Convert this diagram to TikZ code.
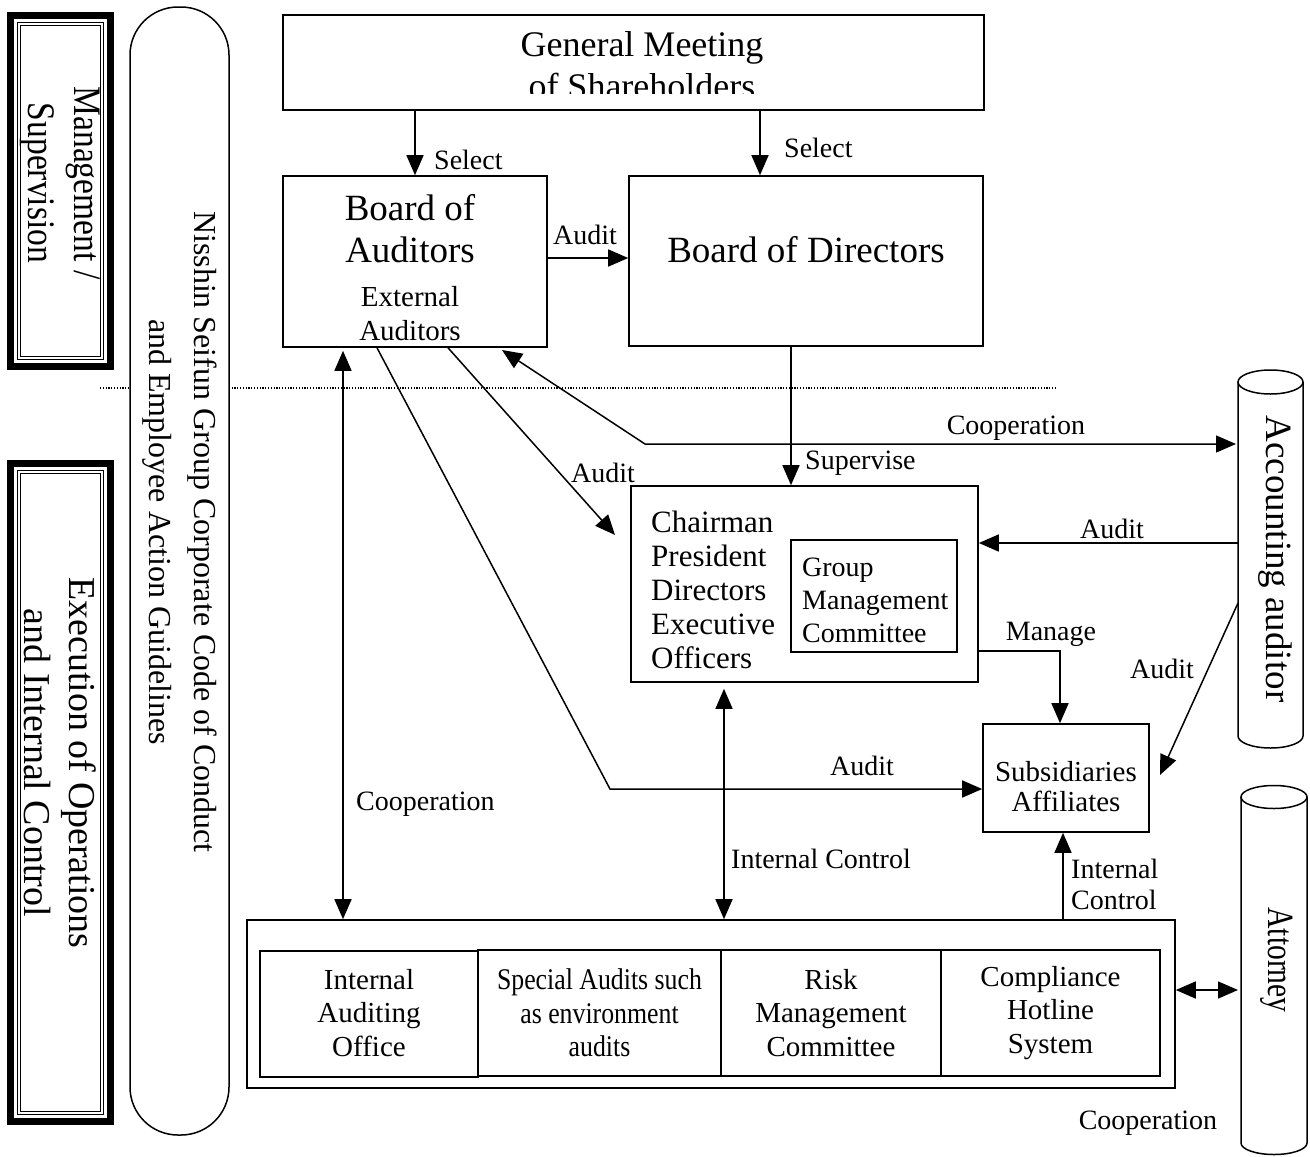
\documentclass[tikz,border=0pt]{standalone}
\usepackage{fontspec}
\setmainfont{Liberation Serif}
\newfontfamily\condA{Liberation Serif}[FakeStretch=0.86]
\newfontfamily\condB{Liberation Serif}[FakeStretch=0.80]
\usetikzlibrary{arrows.meta,calc}
\newcommand\fz[2]{\fontsize{#1}{#2}\selectfont}
\begin{document}
\begin{tikzpicture}[x=1pt,y=-1pt,
  box/.style={draw,line width=1.6pt,fill=white,inner sep=0pt},
  con/.style={line width=1.5pt},
  tip/.style={-{Triangle[length=20pt,width=17pt]}},
  dtip/.style={{Triangle[length=20pt,width=17pt]}-{Triangle[length=20pt,width=17pt]}},
  lbl/.style={font=\fz{28}{32},inner sep=0pt},
  txt/.style={inner sep=0pt,align=center},
]
\useasboundingbox (0,0) rectangle (1310,1157);

% dotted divider
\coordinate (dotL) at (100,388);
\coordinate (dotR) at (1057,388);
\draw[line width=1.2pt,dash pattern=on 1.2pt off 1.6pt] (dotL) -- (dotR);

% left framed panels
\fill[black] (7,12) rectangle (114,370);
\fill[white] (14,19) rectangle (107,363);
\draw[line width=0.9pt] (17.5,22.5) rectangle (103.5,359.5);
\draw[line width=0.9pt] (20.5,25.5) rectangle (100.5,356.5);
\node[txt,rotate=-90,font=\condA\fz{39}{46}] (mgmt) at (60,183) {Management /\\Supervision};

\fill[black] (7,460) rectangle (114,1125);
\fill[white] (14,467) rectangle (107,1118);
\draw[line width=0.9pt] (17.5,470.5) rectangle (103.5,1114.5);
\draw[line width=0.9pt] (20.5,473.5) rectangle (100.5,1111.5);
\node[txt,rotate=-90,font=\fz{38}{45}] (exec) at (60,763) {Execution of Operations\\and Internal Control};

% code of conduct band
\draw[line width=1.5pt,fill=white,rounded corners=48pt] (130,7) rectangle (229,1135);
\node[txt,rotate=-90,font=\fz{32}{45}] (code) at (180,532) {Nisshin Seifun Group Corporate Code of Conduct\\and Employee Action Guidelines};

% General meeting
\node[box,minimum width=701pt,minimum height=95pt] (gm) at (633.5,62.5) {};
\begin{scope}
  \clip (284,16) rectangle (983,93);
  \node[txt,font=\fz{36}{42}] (gmt) at (642,65) {General Meeting\\of Shareholders};
\end{scope}

% Board of auditors
\node[box,minimum width=264pt,minimum height=171pt] (boa) at (415,261.5) {};
\node[txt,font=\fz{37}{42}] (boat) at (410,229) {Board of\\Auditors};
\node[txt,font=\fz{29}{34}] (ext) at (410,314) {External\\Auditors};

% Board of directors
\node[box,minimum width=354pt,minimum height=170pt] (bod) at (806,261) {};
\node[txt,font=\fz{37}{42}] (bodt) at (806,250) {Board of Directors};

% Chairman box
\node[box,minimum width=347pt,minimum height=196pt] (chair) at (804.5,584) {};
\node[inner sep=0pt,align=left,anchor=west,font=\fz{31}{34}] (chairt) at (651,590) {Chairman\\President\\Directors\\Executive\\Officers};
\node[box,minimum width=166pt,minimum height=112pt] (gmc) at (874,596) {};
\node[inner sep=0pt,align=left,anchor=west,font=\fz{28}{33}] (gmct) at (802,600) {Group\\Management\\Committee};

% Subsidiaries
\node[box,minimum width=166pt,minimum height=108pt] (subs) at (1066,778) {};
\node[txt,font=\fz{29}{30}] (subst) at (1066,787) {Subsidiaries\\Affiliates};

% Internal control block
\node[box,minimum width=928pt,minimum height=168pt] (ctrl) at (711,1004) {};
\node[box,minimum width=218pt,minimum height=126pt] (iao) at (369,1014) {};
\node[box,minimum width=243pt,minimum height=126pt] (spa) at (599.5,1013) {};
\node[box,minimum width=220pt,minimum height=126pt] (risk) at (831,1013) {};
\node[box,minimum width=219pt,minimum height=126pt] (comp) at (1050.5,1013) {};
\node[txt,font=\fz{29}{33.5}] (iaot) at (369,1013) {Internal\\Auditing\\Office};
\node[txt,font=\condA\fz{30}{33.5}] (spat) at (599.5,1013) {Special Audits such\\as environment\\audits};
\node[txt,font=\fz{29}{33.5}] (riskt) at (831,1013) {Risk\\Management\\Committee};
\node[txt,font=\fz{29}{33.5}] (compt) at (1050.5,1013) {Compliance\\Hotline\\System};

% Cylinders
\draw[line width=1.5pt,fill=white] (1238,382) -- (1238,736) arc[start angle=180,end angle=0,x radius=32.5,y radius=12] -- (1303,382);
\draw[line width=1.5pt,fill=white] (1270.5,382) ellipse [x radius=32.5,y radius=12];
\node[txt,rotate=-90,font=\fz{37}{40}] (acc) at (1275,559) {Accounting auditor};

\draw[line width=1.5pt,fill=white] (1241,797) -- (1241,1143) arc[start angle=180,end angle=0,x radius=33,y radius=11.5] -- (1307,797);
\draw[line width=1.5pt,fill=white] (1274,797) ellipse [x radius=33,y radius=11.5];
\node[txt,rotate=-90,font=\condB\fz{37}{40}] (att) at (1277,960) {Attorney};

% helper coordinates
\coordinate (s1) at (415,0);
\coordinate (s2) at (760,0);
\coordinate (a1) at (0,258);
\coordinate (sv) at (791,0);
\coordinate (cb) at (645,444);
\coordinate (boaC) at (502,350);
\coordinate (accC) at (1236,444);
\coordinate (bx2) at (448,0);
\coordinate (chA) at (615,535);
\coordinate (bx3) at (377,0);
\coordinate (bend) at (610,789);
\coordinate (cx) at (343,0);
\coordinate (icx) at (724,0);
\coordinate (mg) at (0,651);
\coordinate (mgx) at (1060,0);
\coordinate (accA1) at (1238,543);
\coordinate (accA2) at (1238,603);
\coordinate (subsA) at (1160,775);
\coordinate (ic2) at (1063,0);
\coordinate (at) at (0,990);
\coordinate (attL) at (1238,990);

% connectors
\draw[con,tip] (gm.south -| s1) -- (boa.north -| s1);
\node[lbl,anchor=west] (lsel1) at (434,160) {Select};
\draw[con,tip] (gm.south -| s2) -- (bod.north -| s2);
\node[lbl,anchor=west] (lsel2) at (784,148) {Select};

\draw[con,tip] (boa.east |- a1) -- (bod.west |- a1);
\node[lbl] (la1) at (585,235) {Audit};

\draw[con,tip] (bod.south -| sv) -- (chair.north -| sv);
\node[lbl,anchor=west] (lsv) at (805,463) {Supervise};

\draw[con,dtip] (boaC) -- (cb) -- (accC);
\node[lbl] (lcoop1) at (1016,428) {Cooperation};

\draw[con,tip] (boa.south -| bx2) -- (chA);
\node[lbl] (la2) at (603,473) {Audit};

\draw[con,tip] (boa.south -| bx3) -- (bend) -- (subs.west |- bend);
\node[lbl] (la3) at (862,766) {Audit};

\draw[con,dtip,shorten <=3pt] (boa.south -| cx) -- (ctrl.north -| cx);
\node[lbl,anchor=west] (lcoop2) at (356,804) {Cooperation};

\draw[con,dtip,shorten <=6pt] (chair.south -| icx) -- (ctrl.north -| icx);
\node[lbl,anchor=west] (lic1) at (731,859) {Internal Control};

\draw[con,tip] (chair.east |- mg) -| (subs.north -| mgx);
\node[lbl] (lmg) at (1051,634) {Manage};

\draw[con,tip] (accA1) -- (chair.east |- accA1);
\node[lbl] (la4) at (1112,529) {Audit};

\draw[con,tip] (accA2) -- (subsA);
\node[lbl] (la5) at (1162,669) {Audit};

\draw[con,tip] (ctrl.north -| ic2) -- (subs.south -| ic2);
\node[lbl,anchor=west,align=left,font=\fz{28}{31}] (lic2) at (1071,884) {Internal\\Control};

\draw[con,dtip] (ctrl.east |- at) -- (attL);
\node[lbl] (lcoop3) at (1148,1123) {Cooperation};
\end{tikzpicture}
\end{document}
